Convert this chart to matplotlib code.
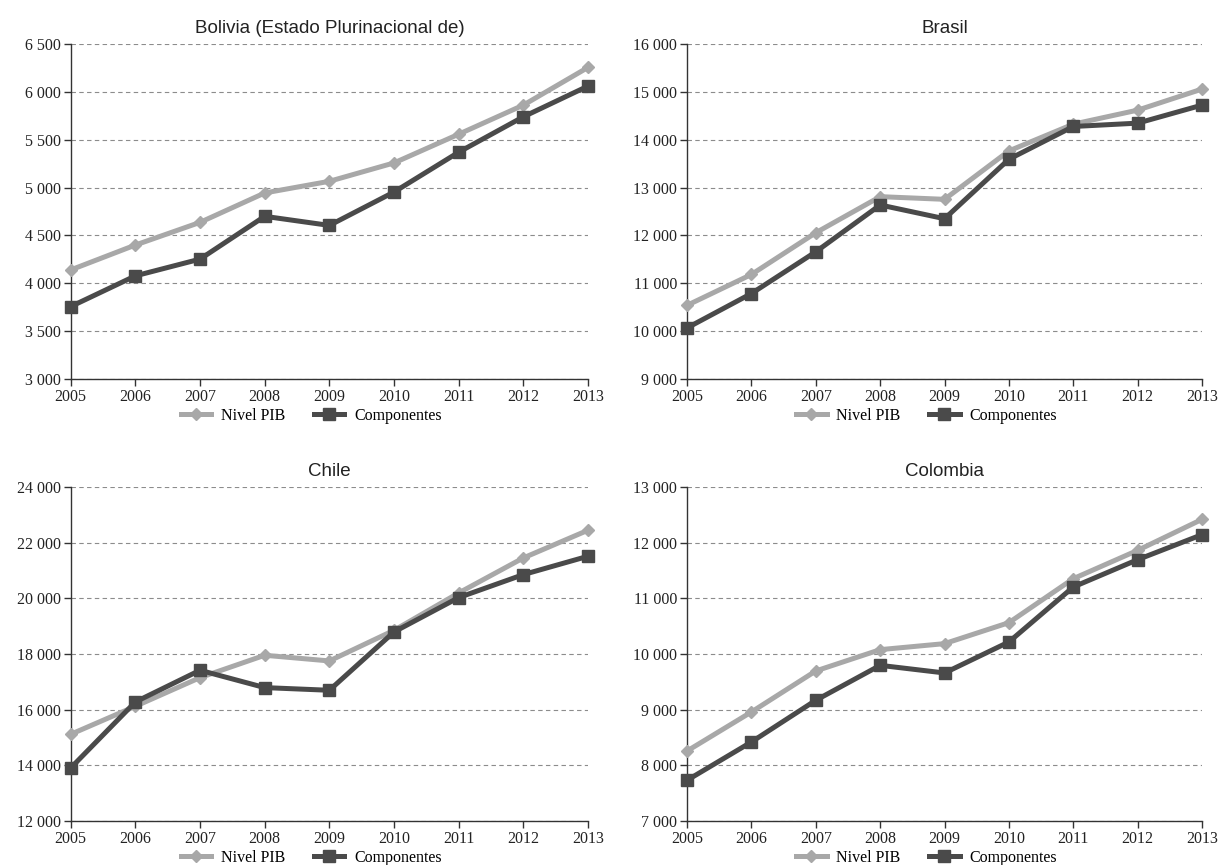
import matplotlib
matplotlib.use("Agg")
import matplotlib.pyplot as plt
from matplotlib.ticker import FuncFormatter, MultipleLocator

years = [2005, 2006, 2007, 2008, 2009, 2010, 2011, 2012, 2013]

# PIB per capita by level vs. sum of components
bolivia_nivel = [4140, 4400, 4637, 4944, 5066, 5258, 5558, 5862, 6256]
bolivia_comp = [3757, 4078, 4253, 4700, 4605, 4954, 5370, 5740, 6061]

brasil_nivel = [10540, 11185, 12057, 12811, 12755, 13767, 14326, 14619, 15059]
brasil_comp = [10068, 10787, 11659, 12637, 12350, 13593, 14277, 14347, 14724]

chile_nivel = [15114, 16121, 17151, 17954, 17750, 18850, 20194, 21452, 22447]
chile_comp = [13905, 16277, 17415, 16792, 16696, 18793, 20027, 20853, 21512]

colombia_nivel = [8257, 8958, 9695, 10078, 10186, 10563, 11353, 11862, 12419]
colombia_comp = [7731, 8419, 9168, 9796, 9659, 10216, 11204, 11695, 12144]

titles = ["Bolivia (Estado Plurinacional de)", "Brasil", "Chile", "Colombia"]
ylims = [(3000, 6500, 500), (9000, 16000, 1000), (12000, 24000, 2000), (7000, 13000, 1000)]
series = [(bolivia_nivel, bolivia_comp), (brasil_nivel, brasil_comp),
          (chile_nivel, chile_comp), (colombia_nivel, colombia_comp)]

light = "#a8a8a8"
dark = "#4a4a4a"
serif = ["Liberation Serif", "DejaVu Serif"]
sans = ["Liberation Sans", "DejaVu Sans"]

fig = plt.figure(figsize=(12.19, 8.65), dpi=100)
boxes = [
    [0.058, 0.5618, 0.4244, 0.3873],
    [0.5636, 0.5618, 0.4225, 0.3873],
    [0.058, 0.0509, 0.4244, 0.3861],
    [0.5636, 0.0509, 0.4225, 0.3861],
]

thousands = FuncFormatter(lambda v, p: "{:,.0f}".format(v).replace(",", " "))

for box, title, (lo, hi, step), (nivel, comp) in zip(boxes, titles, ylims, series):
    ax = fig.add_axes(box)
    ax.plot(years, nivel, color=light, lw=3.6, marker="D", markersize=6.5,
            label="Nivel PIB", clip_on=False, zorder=3)
    ax.plot(years, comp, color=dark, lw=3.6, marker="s", markersize=8,
            label="Componentes", clip_on=False, zorder=4)

    ax.set_xlim(years[0], years[-1])
    ax.set_ylim(lo, hi)
    ax.yaxis.set_major_locator(MultipleLocator(step))
    ax.yaxis.set_major_formatter(thousands)
    ax.set_xticks(years)

    ax.grid(axis="y", linestyle=(0, (4, 3)), color="#8c8c8c", lw=0.8)
    ax.set_axisbelow(True)
    for s in ("top", "right"):
        ax.spines[s].set_visible(False)
    for s in ("left", "bottom"):
        ax.spines[s].set_color("#333333")
        ax.spines[s].set_linewidth(1.0)
    ax.tick_params(direction="out", length=5, width=1, color="#333333",
                   labelsize=11.5, pad=2)
    for lab in ax.get_xticklabels() + ax.get_yticklabels():
        lab.set_family(serif)
        lab.set_color("#222222")

    ax.set_title(title, family=sans, fontsize=13.5, color="#222222", pad=8)
    ax.legend(loc="upper center", bbox_to_anchor=(0.465, -0.052), ncol=2,
              frameon=False, handlelength=1.9, handletextpad=0.6,
              columnspacing=1.8, borderpad=0.2,
              prop={"family": serif, "size": 11.5})

fig.savefig("out.png", dpi=100)
